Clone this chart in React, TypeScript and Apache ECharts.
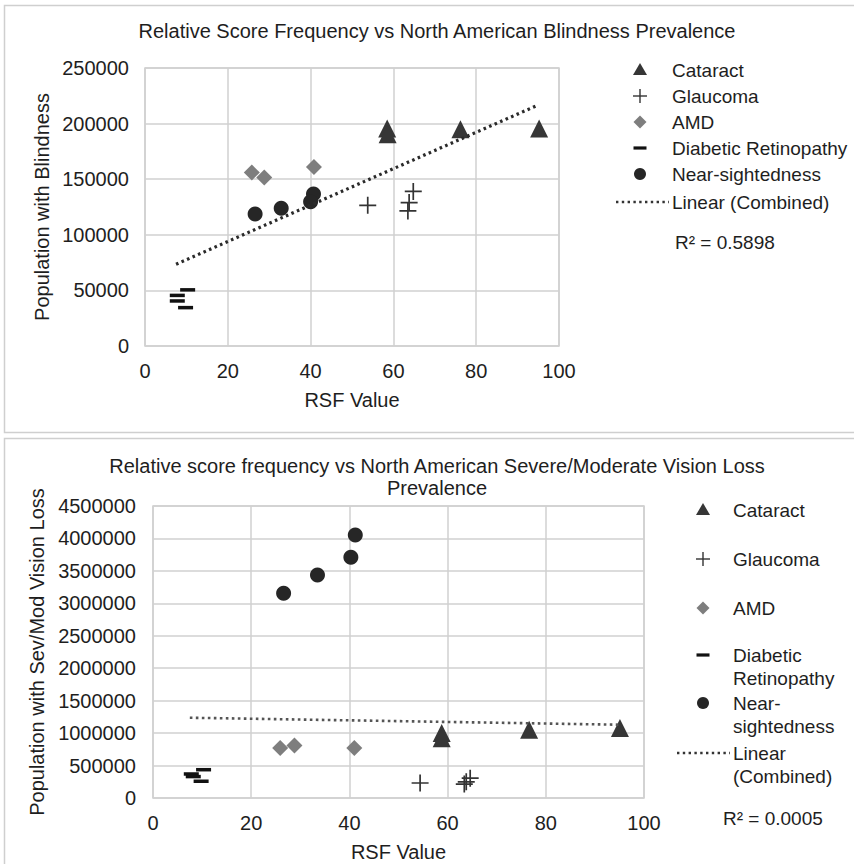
import React, { useEffect, useRef } from "react";
import * as echarts from "echarts";

// ---------- data ----------
const seriesNames = ["Cataract", "Glaucoma", "AMD", "Diabetic Retinopathy", "Near-sightedness"];

// Chart 1: Blindness
const blindCataract = [[58.5, 195500], [58.6, 190500], [76.2, 195000], [95.2, 195500]];
const blindGlaucoma = [[53.8, 126500], [64.8, 139000], [63.8, 129000], [63.5, 121500]];
const blindAMD = [[25.8, 156000], [28.8, 151500], [40.8, 161000]];
const blindDR = [[10.3, 50500], [7.8, 45500], [7.8, 40500], [9.8, 34500]];
const blindNear = [[26.6, 118700], [32.9, 123800], [40.7, 136700], [40.0, 129800]];
const blindTrend = [[7.5, 73500], [94.6, 216100]];
const blindR2 = "R² = 0.5898";

// Chart 2: Severe/Moderate vision loss
const visCataract = [[58.8, 1000000], [58.8, 920000], [76.6, 1050000], [95.1, 1077000]];
const visGlaucoma = [[54.4, 231000], [63.4, 215000], [63.8, 250000], [64.6, 305000]];
const visAMD = [[25.9, 770000], [28.8, 810000], [41.0, 770000]];
const visDR = [[10.3, 436000], [7.8, 370000], [8.2, 330000], [9.8, 258000]];
const visNear = [[26.6, 3156000], [33.5, 3437000], [40.3, 3710000], [41.2, 4053000]];
const visTrend = [[7.5, 1237000], [95.1, 1129000]];
const visR2 = "R² = 0.0005";

const xMin = 0, xMax = 100, xStep = 20;
const y1Max = 250000, y1Step = 50000;
const y2Max = 4500000, y2Step = 500000;

const title1 = "Relative Score Frequency vs North American Blindness Prevalence";
const title2 = "Relative score frequency vs North American Severe/Moderate Vision Loss\nPrevalence";

// ---------- styles ----------
const FONT = "'Liberation Sans', Arial, Helvetica, sans-serif";
const TXT = "#1e1e1e";
const GRID = "#d0d0d0";
const C_TRI = "#363636";
const C_PLUS = "#333333";
const C_DIA = "#7e7e7e";
const C_DASH = "#111111";
const C_CIR = "#262626";
const PLUS_PATH = "path://M7.2,0h1.6v16h-1.6z M0,7.2h16v1.6h-16z";

function scatterSet(idx: number, sets: number[][][]) {
  const defs = [
    { symbol: "triangle", size: 18, color: C_TRI },
    { symbol: PLUS_PATH, size: 17, color: C_PLUS },
    { symbol: "diamond", size: 16, color: C_DIA },
    { symbol: "rect", size: [15, 3.5], color: C_DASH },
    { symbol: "circle", size: 15, color: C_CIR },
  ];
  return sets.map((d, i) => ({
    type: "scatter",
    name: seriesNames[i],
    xAxisIndex: idx,
    yAxisIndex: idx,
    data: d,
    symbol: defs[i].symbol,
    symbolSize: defs[i].size,
    itemStyle: { color: defs[i].color, opacity: 1 },
    silent: true,
    z: 3,
  }));
}

function trend(idx: number, d: number[][], color: string, width: number) {
  return {
    type: "line",
    name: "Linear (Combined)",
    xAxisIndex: idx,
    yAxisIndex: idx,
    data: d,
    showSymbol: false,
    symbol: "none",
    lineStyle: { color, width, type: [2.6, 3.4], cap: "butt" },
    silent: true,
    z: 4,
  };
}

function legendGraphics(x: number, tx: number, ys: number[], labels: string[][], lineH: number, fontSize: number) {
  const els: any[] = [];
  const txt = (t: string, y: number) => ({
    type: "text",
    x: tx,
    y,
    style: { text: t, fill: TXT, font: `${fontSize}px ${FONT}`, verticalAlign: "middle", align: "left" },
  });
  els.push({ type: "polygon", shape: { points: [[x, ys[0] - 7], [x + 7, ys[0] + 5], [x - 7, ys[0] + 5]] }, style: { fill: C_TRI } });
  els.push({ type: "rect", shape: { x: x - 7, y: ys[1] - 0.7, width: 14, height: 1.4 }, style: { fill: C_PLUS } });
  els.push({ type: "rect", shape: { x: x - 0.7, y: ys[1] - 7, width: 1.4, height: 14 }, style: { fill: C_PLUS } });
  els.push({ type: "polygon", shape: { points: [[x, ys[2] - 6.5], [x + 6.5, ys[2]], [x, ys[2] + 6.5], [x - 6.5, ys[2]]] }, style: { fill: C_DIA } });
  els.push({ type: "rect", shape: { x: x - 6.5, y: ys[3] - 1.6, width: 13, height: 3.2 }, style: { fill: C_DASH } });
  els.push({ type: "circle", shape: { cx: x, cy: ys[4], r: 6 }, style: { fill: C_CIR } });
  els.push({
    type: "line",
    shape: { x1: tx - 56, y1: ys[5], x2: tx - 3, y2: ys[5] },
    style: { stroke: "#333", lineWidth: 2.6, lineDash: [2.4, 3.4] },
  });
  labels.forEach((lines, i) => {
    lines.forEach((t, j) => {
      els.push(txt(t, ys[i] + j * lineH));
    });
  });
  return els;
}

const plain = (v: number) => String(v);

export default function App() {
  const ref = useRef<HTMLDivElement>(null);
  useEffect(() => {
    if (!ref.current) return;
    const chart = echarts.init(ref.current, undefined, { renderer: "svg" });

    const axisLabel = { color: TXT, fontSize: 20, fontFamily: FONT, formatter: plain };
    const nameStyle = { color: TXT, fontSize: 20, fontFamily: FONT };

    const topLegendYs = [70, 96, 122, 148, 174, 202];
    const botLegendYs = [510, 559, 608, 655, 703, 753];

    const option: any = {
      animation: false,
      backgroundColor: "#ffffff",
      textStyle: { fontFamily: FONT },
      title: [
        {
          text: title1,
          left: 437,
          top: 21,
          padding: 0,
          textAlign: "center",
          textStyle: { color: TXT, fontSize: 20, fontWeight: "normal", fontFamily: FONT },
        },
        {
          text: title2,
          left: 437,
          top: 455,
          padding: 0,
          textAlign: "center",
          textStyle: { color: TXT, fontSize: 20, fontWeight: "normal", fontFamily: FONT, lineHeight: 22 },
        },
      ],
      grid: [
        { left: 145, top: 68, width: 414, height: 278, show: true, borderColor: GRID, borderWidth: 1.5, backgroundColor: "transparent" },
        { left: 153, top: 506, width: 491, height: 292, show: true, borderColor: GRID, borderWidth: 1.5, backgroundColor: "transparent" },
      ],
      xAxis: [0, 1].map((i) => ({
        type: "value",
        gridIndex: i,
        min: xMin,
        max: xMax,
        interval: xStep,
        name: "RSF Value",
        nameLocation: "middle",
        nameGap: 44,
        nameTextStyle: nameStyle,
        axisLine: { show: false },
        axisTick: { show: false },
        axisLabel: { ...axisLabel, margin: 15 },
        splitLine: { show: true, lineStyle: { color: GRID, width: 1.5 } },
      })),
      yAxis: [
        {
          type: "value",
          gridIndex: 0,
          min: 0,
          max: y1Max,
          interval: y1Step,
          name: "Population with Blindness",
          nameLocation: "middle",
          nameGap: 93,
          nameTextStyle: nameStyle,
          axisLine: { show: false },
          axisTick: { show: false },
          axisLabel: { ...axisLabel, margin: 16 },
          splitLine: { show: true, lineStyle: { color: GRID, width: 1.5 } },
        },
        {
          type: "value",
          gridIndex: 1,
          min: 0,
          max: y2Max,
          interval: y2Step,
          name: "Population with Sev/Mod Vision Loss",
          nameLocation: "middle",
          nameGap: 90,
          nameTextStyle: nameStyle,
          axisLine: { show: false },
          axisTick: { show: false },
          axisLabel: { ...axisLabel, margin: 17 },
          splitLine: { show: true, lineStyle: { color: GRID, width: 1.5 } },
        },
      ],
      series: [
        ...scatterSet(0, [blindCataract, blindGlaucoma, blindAMD, blindDR, blindNear]),
        trend(0, blindTrend, "#2a2a2a", 3.2),
        ...scatterSet(1, [visCataract, visGlaucoma, visAMD, visDR, visNear]),
        trend(1, visTrend, "#555555", 2.6),
      ],
      graphic: [
        { type: "rect", silent: true, z: -10, shape: { x: 4.5, y: 5.5, width: 880, height: 427 }, style: { fill: "none", stroke: "#cfcfcf", lineWidth: 1.5 } },
        { type: "rect", silent: true, z: -10, shape: { x: 4.5, y: 438.5, width: 880, height: 450 }, style: { fill: "none", stroke: "#cfcfcf", lineWidth: 1.5 } },
        ...legendGraphics(
          640,
          672,
          topLegendYs,
          [["Cataract"], ["Glaucoma"], ["AMD"], ["Diabetic Retinopathy"], ["Near-sightedness"], ["Linear (Combined)"]],
          23,
          19
        ),
        { type: "text", x: 675, y: 242, style: { text: blindR2, fill: TXT, font: `19px ${FONT}`, verticalAlign: "middle" } },
        ...legendGraphics(
          703,
          733,
          botLegendYs,
          [["Cataract"], ["Glaucoma"], ["AMD"], ["Diabetic", "Retinopathy"], ["Near-", "sightedness"], ["Linear", "(Combined)"]],
          23,
          19
        ),
        { type: "text", x: 723, y: 818, style: { text: visR2, fill: TXT, font: `19px ${FONT}`, verticalAlign: "middle" } },
      ],
    };
    chart.setOption(option);
    return () => chart.dispose();
  }, []);
  return <div ref={ref} style={{ position: "fixed", left: 0, top: 0, width: 854, height: 864, background: "#fff" }} />;
}
